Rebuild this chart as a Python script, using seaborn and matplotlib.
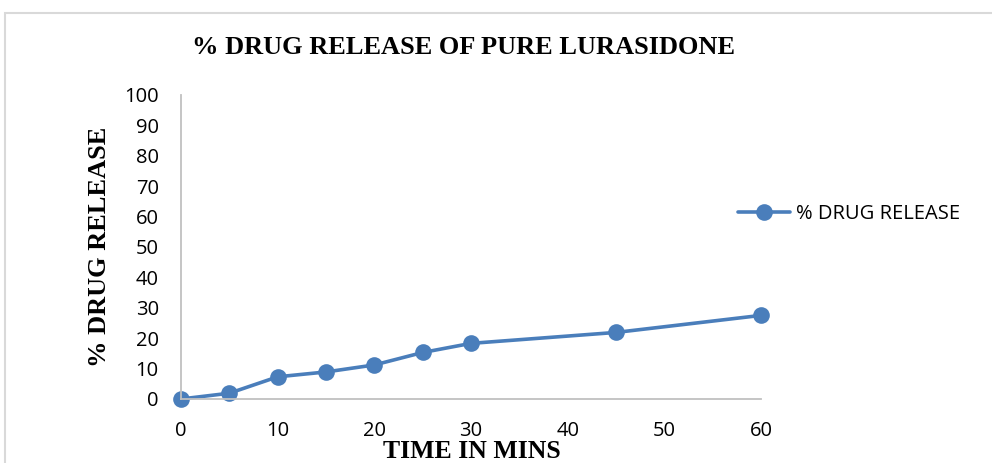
import matplotlib
matplotlib.use("Agg")
import matplotlib.pyplot as plt
from matplotlib.patches import Rectangle
import seaborn as sns
import pandas as pd

# Dissolution profile of pure lurasidone
time_min = [0, 5, 10, 15, 20, 25, 30, 45, 60]
drug_release = [0, 1.9, 7.3, 8.9, 11.2, 15.3, 18.3, 21.9, 27.5]
series_name = "% DRUG RELEASE"
x_ticks = [0, 10, 20, 30, 40, 50, 60]
y_ticks = [0, 10, 20, 30, 40, 50, 60, 70, 80, 90, 100]

sns.set_theme(style="white")
plt.rcParams["font.family"] = ["Open Sans", "DejaVu Sans"]

df = pd.DataFrame({"time": time_min, "release": drug_release, "series": series_name})

W, H = 992, 463
fig = plt.figure(figsize=(W / 100, H / 100), dpi=100)
ax = fig.add_axes([181 / W, 1 - 399 / H, (761 - 181) / W, (399 - 95) / H])

line_color = "#4a7ebb"
sns.lineplot(data=df, x="time", y="release", hue="series", palette=[line_color],
             marker="o", markersize=12, linewidth=2.6, markeredgewidth=0,
             ax=ax, legend=True)

ax.set_xlim(0, 60)
ax.set_ylim(0, 100)
ax.set_xticks(x_ticks)
ax.set_yticks(y_ticks)
ax.tick_params(axis="both", length=0, labelsize=14.5, colors="black")
ax.tick_params(axis="x", pad=16)
ax.tick_params(axis="y", pad=16)
for lab in ax.get_xticklabels() + ax.get_yticklabels():
    lab.set_color("#000000")
for s in ["top", "right"]:
    ax.spines[s].set_visible(False)
for s in ["left", "bottom"]:
    ax.spines[s].set_color("#c0c0c0")
    ax.spines[s].set_linewidth(1.3)
ax.grid(False)
for artist in ax.lines:
    artist.set_clip_on(False)

ax.set_xlabel("")
ax.set_ylabel("")

serif_bold = dict(family=["Liberation Serif", "DejaVu Serif"], weight="bold", color="black")
fig.text(464 / W, 1 - 47 / H, "% DRUG RELEASE OF PURE LURASIDONE",
         ha="center", va="center", fontsize=19, **serif_bold)
fig.text(100 / W, 1 - 247 / H, "% DRUG RELEASE", rotation=90,
         ha="center", va="center", fontsize=19, **serif_bold)
fig.text(472 / W, 1 - 457.5 / H, "TIME IN MINS",
         ha="center", va="baseline", fontsize=18.5, **serif_bold)

leg = ax.legend(loc="center left", bbox_to_anchor=(730 / W, 1 - 214 / H),
                bbox_transform=fig.transFigure, frameon=False, fontsize=14.5,
                handlelength=2.6, handletextpad=0.3, borderaxespad=0)
for t in leg.get_texts():
    t.set_color("black")

# Outer chart frame
fig.patches.append(Rectangle((5 / W, -0.1), 1.2, 1 - 13 / H + 0.1,
                             transform=fig.transFigure, fill=False,
                             edgecolor="#d9d9d9", linewidth=1.5))

fig.savefig("out.png", dpi=100, facecolor="white")
